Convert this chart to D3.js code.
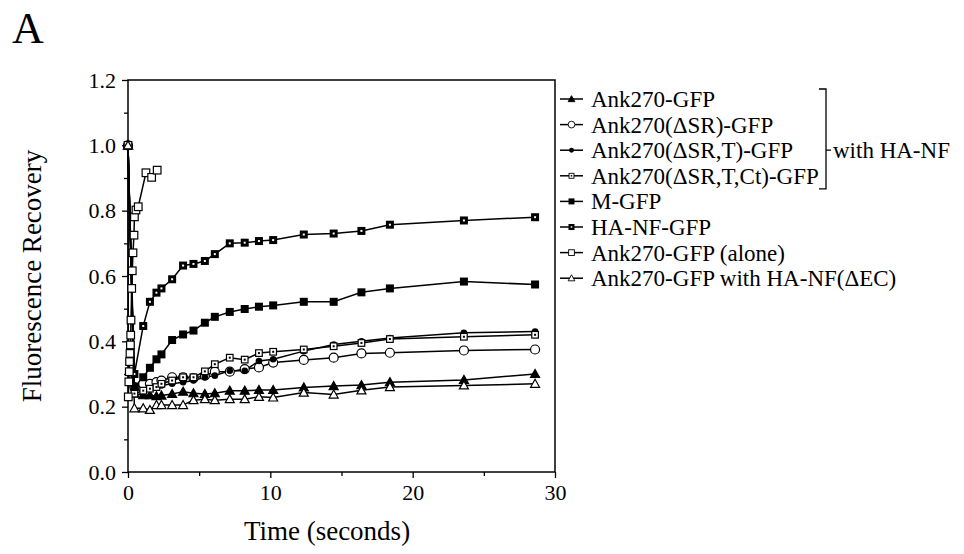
<!DOCTYPE html>
<html>
<head>
<meta charset="utf-8">
<script src="https://cdn.jsdelivr.net/npm/d3@7"></script>
<style>
	body { margin: 0; background: #fff; }
	svg { display: block; }
	text { font-family: "Liberation Serif", "DejaVu Serif", serif; fill: #000; }
</style>
</head>
<body>
<svg id="chart" width="964" height="554"></svg>
<script>
// data
//- - - - - - - - - - - - - - - - - - - - - -
var times = [0, 0.45, 1.07, 1.54, 2.0, 2.35, 3.1, 3.87, 4.6, 5.4, 6.1, 7.15, 8.2, 9.2, 10.2, 12.35, 14.45, 16.4, 18.4, 23.6, 28.6];

var ank270       = [1.0, 0.24, 0.235, 0.235, 0.232, 0.234, 0.239, 0.246, 0.241, 0.239, 0.241, 0.249, 0.249, 0.251, 0.251, 0.259, 0.263, 0.266, 0.275, 0.282, 0.30];
var ankDSR       = [1.0, 0.26, 0.27, 0.27, 0.275, 0.28, 0.29, 0.29, 0.287, 0.295, 0.307, 0.307, 0.315, 0.32, 0.335, 0.343, 0.35, 0.363, 0.365, 0.372, 0.375];
var ankDSRT      = [1.0, 0.25, 0.25, 0.255, 0.26, 0.265, 0.27, 0.275, 0.28, 0.29, 0.295, 0.31, 0.31, 0.34, 0.345, 0.37, 0.39, 0.40, 0.41, 0.426, 0.43];
var ankDSRTCt    = [1.0, 0.24, 0.249, 0.255, 0.26, 0.27, 0.28, 0.29, 0.29, 0.308, 0.33, 0.35, 0.344, 0.364, 0.368, 0.375, 0.385, 0.395, 0.407, 0.414, 0.42];
var mGFP         = [1.0, 0.26, 0.29, 0.319, 0.345, 0.36, 0.404, 0.421, 0.433, 0.457, 0.475, 0.49, 0.499, 0.506, 0.51, 0.521, 0.521, 0.55, 0.562, 0.583, 0.574];
var haNF         = [1.0, 0.30, 0.447, 0.521, 0.549, 0.562, 0.59, 0.632, 0.637, 0.646, 0.667, 0.70, 0.702, 0.707, 0.71, 0.727, 0.73, 0.738, 0.757, 0.77, 0.78];
var ankDEC       = [1.0, 0.195, 0.195, 0.19, 0.205, 0.205, 0.205, 0.205, 0.22, 0.223, 0.22, 0.223, 0.223, 0.23, 0.228, 0.243, 0.237, 0.25, 0.26, 0.265, 0.27];

var aloneTimes   = [0, 0.02, 0.06, 0.09, 0.11, 0.14, 0.17, 0.19, 0.21, 0.26, 0.30, 0.35, 0.42, 0.45, 0.56, 0.72, 1.26, 1.66, 2.05];
var aloneValues  = [1.0, 0.23, 0.276, 0.307, 0.338, 0.363, 0.389, 0.419, 0.465, 0.562, 0.616, 0.671, 0.725, 0.781, 0.802, 0.812, 0.916, 0.902, 0.924];

var legendLabels = ['Ank270-GFP', 'Ank270(\u0394SR)-GFP', 'Ank270(\u0394SR,T)-GFP', 'Ank270(\u0394SR,T,Ct)-GFP',
                    'M-GFP', 'HA-NF-GFP', 'Ank270-GFP (alone)', 'Ank270-GFP with HA-NF(\u0394EC)'];
var markerTypes  = ['triFill', 'circOpen', 'circFill', 'sqDot', 'sqFill', 'sqDark', 'sqOpen', 'triOpen'];

var xTicks = [0, 10, 20, 30];
var xMinor = [5, 15, 25];
var yTicks = [0, 0.2, 0.4, 0.6, 0.8, 1.0, 1.2];
var yMinor = [0.1, 0.3, 0.5, 0.7, 0.9, 1.1];

// series list built from the arrays above
//- - - - - - - - - - - - - - - - - - - - - -
var series = [
	{ t: times, v: ank270 },
	{ t: times, v: ankDSR },
	{ t: times, v: ankDSRT },
	{ t: times, v: ankDSRTCt },
	{ t: times, v: mGFP },
	{ t: times, v: haNF },
	{ t: aloneTimes, v: aloneValues },
	{ t: times, v: ankDEC }
].map(function(s, i) {
	return {
		type: markerTypes[i],
		points: s.t.map(function(t, j) { return { t: t, v: s.v[j] }; })
	};
});

var svg = d3.select('#chart');

var x = d3.scaleLinear().domain([0, 30]).range([128, 555]);
var y = d3.scaleLinear().domain([0, 1.2]).range([472, 80]);

// draws one marker centred on 0,0
//- - - - - - - - - - - - - - - - - - - - - -
var drawMarker = function(g, type) {
	if (type === 'triFill' || type === 'triOpen') {
		g.append('path')
			.attr('d', 'M0,-4.5L4.5,3.5L-4.5,3.5Z')
			.attr('fill', type === 'triFill' ? '#000' : '#fff')
			.attr('stroke', '#000').attr('stroke-width', 1.2);
	} else if (type === 'circOpen') {
		g.append('circle').attr('r', 4.5)
			.attr('fill', '#fff').attr('stroke', '#000').attr('stroke-width', 1.2);
	} else if (type === 'circFill') {
		g.append('circle').attr('r', 3.3).attr('fill', '#000');
	} else if (type === 'sqFill') {
		g.append('rect').attr('x', -4).attr('y', -4).attr('width', 8).attr('height', 8).attr('fill', '#000');
	} else if (type === 'sqDark') {
		g.append('rect').attr('x', -4).attr('y', -4).attr('width', 8).attr('height', 8).attr('fill', '#000');
		g.append('rect').attr('x', -1).attr('y', -1).attr('width', 2).attr('height', 2).attr('fill', '#fff');
	} else if (type === 'sqDot') {
		g.append('rect').attr('x', -3.3).attr('y', -3.3).attr('width', 6.6).attr('height', 6.6)
			.attr('fill', '#fff').attr('stroke', '#000').attr('stroke-width', 1.2);
		g.append('rect').attr('x', -1).attr('y', -1).attr('width', 2).attr('height', 2).attr('fill', '#000');
	} else {
		g.append('rect').attr('x', -3.8).attr('y', -3.8).attr('width', 7.6).attr('height', 7.6)
			.attr('fill', '#fff').attr('stroke', '#000').attr('stroke-width', 1.2);
	}
};

// axes
//- - - - - - - - - - - - - - - - - - - - - -
var styleAxis = function(g) {
	g.select('.domain').remove();
	g.selectAll('line').attr('stroke', '#000').attr('stroke-width', 1.3);
	g.selectAll('text').attr('font-size', 22).attr('font-family', null);
};

svg.append('g').attr('transform', 'translate(128,0)')
	.call(d3.axisLeft(y).tickValues(yTicks).tickFormat(d3.format('.1f')).tickSize(6).tickPadding(6))
	.call(styleAxis);
svg.append('g').attr('transform', 'translate(128,0)')
	.call(d3.axisLeft(y).tickValues(yMinor).tickFormat('').tickSize(4))
	.call(styleAxis);
svg.append('g').attr('transform', 'translate(0,472)')
	.call(d3.axisBottom(x).tickValues(xTicks).tickFormat(d3.format('d')).tickSize(6).tickPadding(6))
	.call(styleAxis);
svg.append('g').attr('transform', 'translate(0,472)')
	.call(d3.axisBottom(x).tickValues(xMinor).tickFormat('').tickSize(4))
	.call(styleAxis);

svg.append('rect')
	.attr('x', x(0)).attr('y', y(1.2))
	.attr('width', x(30) - x(0)).attr('height', y(0) - y(1.2))
	.attr('fill', 'none').attr('stroke', '#000').attr('stroke-width', 1.5);

// series
//- - - - - - - - - - - - - - - - - - - - - -
var line = d3.line()
	.x(function(d) { return x(d.t); })
	.y(function(d) { return y(d.v); });

series.forEach(function(s) {
	svg.append('path')
		.attr('d', line(s.points))
		.attr('fill', 'none').attr('stroke', '#000').attr('stroke-width', 1.5);
});

series.forEach(function(s) {
	svg.append('g').selectAll('g')
		.data(s.points)
		.enter().append('g')
		.attr('transform', function(d) { return 'translate(' + x(d.t) + ',' + y(d.v) + ')'; })
		.each(function() { drawMarker(d3.select(this), s.type); });
});

// labels
//- - - - - - - - - - - - - - - - - - - - - -
svg.append('text').attr('x', 12).attr('y', 43).attr('font-size', 44).text('A');

svg.append('text')
	.attr('transform', 'translate(41,276) rotate(-90)')
	.attr('text-anchor', 'middle').attr('font-size', 27)
	.text('Fluorescence Recovery');

svg.append('text')
	.attr('x', 327).attr('y', 540)
	.attr('text-anchor', 'middle').attr('font-size', 27)
	.text('Time (seconds)');

// legend
//- - - - - - - - - - - - - - - - - - - - - -
var rowY = function(i) { return 99 + i * 25.6; };

var legend = svg.append('g').selectAll('g')
	.data(legendLabels)
	.enter().append('g')
	.attr('transform', function(d, i) { return 'translate(0,' + rowY(i) + ')'; });

legend.append('line')
	.attr('x1', 560).attr('x2', 583)
	.attr('stroke', '#000').attr('stroke-width', 1.5);
legend.append('g')
	.attr('transform', 'translate(571.5,0) scale(0.75)')
	.each(function(d, i) { drawMarker(d3.select(this), markerTypes[i]); });
legend.append('text')
	.attr('x', 591).attr('y', 8)
	.attr('font-size', 23)
	.text(function(d) { return d; });

// bracket for the "with HA-NF" group
var bTop = rowY(0) - 10, bBot = rowY(3) + 13, bx = 826;
svg.append('path')
	.attr('d', 'M' + (bx - 7) + ',' + bTop + 'H' + bx + 'V' + bBot + 'H' + (bx - 7) +
		'M' + bx + ',' + rowY(2) + 'H' + (bx + 5))
	.attr('fill', 'none').attr('stroke', '#000').attr('stroke-width', 1.3);
svg.append('text')
	.attr('x', bx + 7).attr('y', rowY(2) + 8)
	.attr('font-size', 23)
	.text('with HA-NF');
</script>
</body>
</html>
